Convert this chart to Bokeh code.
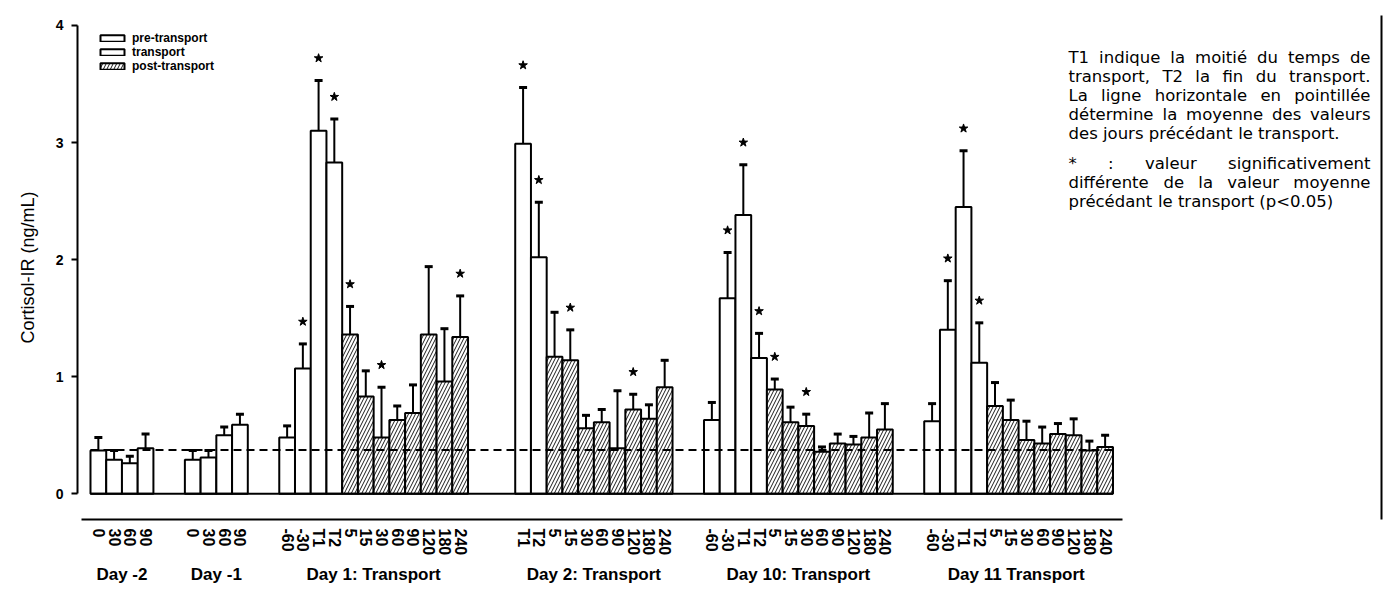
from bokeh.plotting import figure
from bokeh.models import (ColumnDataSource, FixedTicker, LinearAxis, Range1d, Label,
                          Legend, LegendItem, BoxAnnotation)
from bokeh.embed import file_html
from bokeh.resources import INLINE

# ---------------- data ----------------
group_names = ["Day -2", "Day -1", "Day 1: Transport", "Day 2: Transport",
               "Day 10: Transport", "Day 11  Transport"]

dm2_time = ["0", "30", "60", "90"]
dm2_mean = [0.37, 0.29, 0.26, 0.39]
dm2_sem = [0.11, 0.08, 0.06, 0.12]
dm2_sig = [0, 0, 0, 0]

dm1_time = ["0", "30", "60", "90"]
dm1_mean = [0.29, 0.31, 0.50, 0.59]
dm1_sem = [0.08, 0.06, 0.07, 0.09]
dm1_sig = [0, 0, 0, 0]

d1_time = ["-60", "-30", "T1", "T2", "5", "15", "30", "60", "90", "120", "180", "240"]
d1_mean = [0.48, 1.07, 3.10, 2.83, 1.36, 0.83, 0.48, 0.63, 0.69, 1.36, 0.96, 1.34]
d1_sem = [0.10, 0.21, 0.43, 0.37, 0.24, 0.22, 0.43, 0.12, 0.24, 0.58, 0.45, 0.35]
d1_sig = [0, 1, 1, 1, 1, 0, 1, 0, 0, 0, 0, 1]

d2_time = ["T1", "T2", "5", "15", "30", "60", "90", "120", "180", "240"]
d2_mean = [2.99, 2.02, 1.17, 1.14, 0.56, 0.61, 0.39, 0.72, 0.64, 0.91]
d2_sem = [0.48, 0.47, 0.38, 0.26, 0.11, 0.11, 0.49, 0.13, 0.12, 0.23]
d2_sig = [1, 1, 0, 1, 0, 0, 0, 1, 0, 0]

d10_time = ["-60", "-30", "T1", "T2", "5", "15", "30", "60", "90", "120", "180", "240"]
d10_mean = [0.63, 1.67, 2.38, 1.16, 0.89, 0.61, 0.58, 0.36, 0.43, 0.42, 0.48, 0.55]
d10_sem = [0.15, 0.39, 0.43, 0.21, 0.09, 0.13, 0.10, 0.04, 0.08, 0.07, 0.21, 0.22]
d10_sig = [0, 1, 1, 1, 1, 0, 1, 0, 0, 0, 0, 0]

d11_time = ["-60", "-30", "T1", "T2", "5", "15", "30", "60", "90", "120", "180", "240"]
d11_mean = [0.62, 1.40, 2.45, 1.12, 0.75, 0.63, 0.46, 0.43, 0.51, 0.50, 0.37, 0.40]
d11_sem = [0.15, 0.42, 0.48, 0.34, 0.20, 0.17, 0.16, 0.14, 0.09, 0.14, 0.08, 0.10]
d11_sig = [0, 1, 1, 1, 0, 0, 0, 0, 0, 0, 0, 0]

legend_labels = ["pre-transport", "transport", "post-transport"]

note_para1 = [
    "T1 indique la moitié du temps de",
    "transport, T2 la fin du transport.",
    "La ligne horizontale en pointillée",
    "détermine la moyenne des valeurs",
    "des jours précédant le transport.",
]
note_para2 = [
    "* : valeur significativement",
    "différente de la valeur moyenne",
    "précédant le transport (p<0.05)",
]

# ---------------- layout helpers ----------------
groups = [
    (dm2_time, dm2_mean, dm2_sem, dm2_sig, True),
    (dm1_time, dm1_mean, dm1_sem, dm1_sig, True),
    (d1_time, d1_mean, d1_sem, d1_sig, False),
    (d2_time, d2_mean, d2_sem, d2_sig, False),
    (d10_time, d10_mean, d10_sem, d10_sig, False),
    (d11_time, d11_mean, d11_sem, d11_sig, False),
]
gap_before = [0, 2, 2, 3, 2, 2]   # empty slots between groups (layout)

xs, means, sems, phases, sigs, ticklabels = [], [], [], [], [], []
group_centers = []
slot = 0
for (times, m, s, sg, pre_day), gap in zip(groups, gap_before):
    slot += gap
    start = slot
    for t, mv, sv, g in zip(times, m, s, sg):
        if pre_day or t.startswith("-"):
            ph = legend_labels[0]
        elif t.startswith("T"):
            ph = legend_labels[1]
        else:
            ph = legend_labels[2]
        xs.append(slot); means.append(mv); sems.append(sv)
        phases.append(ph); sigs.append(g); ticklabels.append(t)
        slot += 1
    group_centers.append((start + slot - 1) / 2)

tops = [m + s for m, s in zip(means, sems)]
baseline_mean = sum(dm2_mean + dm1_mean) / len(dm2_mean + dm1_mean)

FONT = "Liberation Sans"
W, H = 1384, 589
FL, FT, FB = 77, 15, 519          # frame left / top / bottom in canvas px

p = figure(width=W, height=H, output_backend="svg", toolbar_location=None,
           x_range=Range1d(-1.326, 81.76), y_range=Range1d(-0.2195, 4.0846),
           min_border_left=FL, min_border_right=0, min_border_top=FT,
           min_border_bottom=H - FB)
p.outline_line_color = None
p.xgrid.visible = False
p.ygrid.visible = False
p.background_fill_color = "white"
p.border_fill_color = "white"

renderers = {}
for ph in legend_labels:
    idx = [i for i, v in enumerate(phases) if v == ph]
    src = ColumnDataSource(dict(x=[xs[i] for i in idx], top=[means[i] for i in idx]))
    kw = dict(hatch_pattern="/", hatch_scale=7, hatch_weight=0.9, hatch_color="black") \
        if ph == legend_labels[2] else {}
    renderers[ph] = p.vbar(x="x", top="top", bottom=0, width=1, source=src,
                           fill_color="white", line_color="black", line_width=2, **kw)

# error bars (upper only)
err_src = ColumnDataSource(dict(x=xs, y0=means, y1=tops))
p.segment(x0="x", y0="y0", x1="x", y1="y1", source=err_src, line_color="black", line_width=2)
p.scatter(x="x", y="y1", source=err_src, marker="dash", size=8, line_color="black", line_width=3)

# significance stars
sx = [x for x, g in zip(xs, sigs) if g]
sy = [t + 0.19 for t, g in zip(tops, sigs) if g]
p.scatter(x=sx, y=sy, marker="star", size=9, fill_color="black", line_color="black")

# zero baseline and dashed pre-transport mean
p.segment(x0=[min(xs) - 0.5], x1=[max(xs) + 0.5], y0=[0], y1=[0], line_color="black", line_width=2)
p.segment(x0=[min(xs) - 0.5], x1=[max(xs) + 0.6], y0=[baseline_mean], y1=[baseline_mean],
          line_color="black", line_width=2, line_dash="8 5")

# y axis
ya = p.yaxis[0]
ya.ticker = FixedTicker(ticks=[0, 1, 2, 3, 4])
ya.bounds = (0, 4)
ya.minor_tick_line_color = None
ya.major_tick_in = 0
ya.major_tick_out = 6
ya.major_tick_line_width = 2
ya.axis_line_width = 2
ya.major_label_text_font = FONT
ya.major_label_text_font_style = "bold"
ya.major_label_text_font_size = "14px"
ya.major_label_text_color = "black"
ya.major_label_standoff = 8
ya.axis_label = "Cortisol-IR (ng/mL)"
ya.axis_label_text_font = FONT
ya.axis_label_text_font_style = "normal"
ya.axis_label_text_font_size = "18px"
ya.axis_label_text_color = "black"
ya.axis_label_standoff = 15

# x axis (time points)
xa = p.xaxis[0]
xa.ticker = FixedTicker(ticks=xs)
xa.major_label_overrides = {x: t for x, t in zip(xs, ticklabels)}
xa.major_label_orientation = "vertical"
xa.bounds = (min(xs) - 1.1, max(xs) + 1.1)
xa.major_tick_line_color = None
xa.minor_tick_line_color = None
xa.axis_line_width = 2
xa.major_label_standoff = 3
xa.major_label_text_font = FONT
xa.major_label_text_font_style = "bold"
xa.major_label_text_font_size = "16px"
xa.major_label_text_color = "black"

# group axis
ga = LinearAxis(ticker=FixedTicker(ticks=group_centers),
                major_label_overrides={c: n for c, n in zip(group_centers, group_names)})
ga.axis_line_color = None
ga.major_tick_line_color = None
ga.minor_tick_line_color = None
ga.major_label_standoff = 0
ga.major_label_text_font = FONT
ga.major_label_text_font_size = "17px"
ga.major_label_text_font_style = "bold"
ga.major_label_text_color = "black"
p.add_layout(ga, "below")

# legend
legend = Legend(items=[LegendItem(label=l, renderers=[renderers[l]]) for l in legend_labels],
                location=(20, FB - 73), padding=0, margin=0, spacing=0,
                glyph_width=30, glyph_height=8, label_height=12, label_standoff=5,
                label_text_font=FONT, label_text_font_style="bold", label_text_font_size="12px",
                label_text_color="black",
                background_fill_alpha=0, border_line_color=None)
p.add_layout(legend)

# notes (justified paragraphs, DejaVu Sans metrics)
DJV = {" ": .318, "*": .5, ":": .337, ",": .318, ".": .318, "(": .39, ")": .39, "<": .838,
       "T": .611, "L": .557, "a": .613, "c": .55, "d": .635, "e": .615, "é": .615, "f": .352,
       "g": .635, "h": .634, "i": .278, "j": .278, "l": .278, "m": .974, "n": .634, "o": .612,
       "p": .635, "q": .635, "r": .411, "s": .521, "t": .392, "u": .634, "v": .592, "y": .592,
       "z": .525}
NOTE_FS = 16.5
NOTE_X0, NOTE_X1 = 1068, 1370


def tw(s):
    return sum(DJV.get(c, .636) for c in s) * NOTE_FS


def place_line(line, y_center, justify):
    words = line.split(" ")
    if justify and len(words) > 1:
        gap = (NOTE_X1 - NOTE_X0 - sum(tw(w) for w in words)) / (len(words) - 1)
    else:
        gap = tw(" ")
    x = NOTE_X0
    for w in words:
        p.add_layout(Label(x=x - FL, y=FB - y_center, x_units="screen", y_units="screen",
                           text=w, text_font="DejaVu Sans", text_font_size=f"{NOTE_FS}px",
                           text_baseline="middle", text_color="black"))
        x += tw(w) + gap


for i, line in enumerate(note_para1):
    place_line(line, 57 + 19 * i, i < len(note_para1) - 1)
for i, line in enumerate(note_para2):
    place_line(line, 163 + 19 * i, i < len(note_para2) - 1)

# document frame line at the right page edge
p.add_layout(BoxAnnotation(left=1380 - FL, right=1382 - FL, bottom=-(H - FB) - 5, top=FB + 5,
                           left_units="screen", right_units="screen",
                           bottom_units="screen", top_units="screen",
                           fill_color="black", fill_alpha=1, line_color=None))

open("out.html", "w").write(file_html(p, INLINE))
